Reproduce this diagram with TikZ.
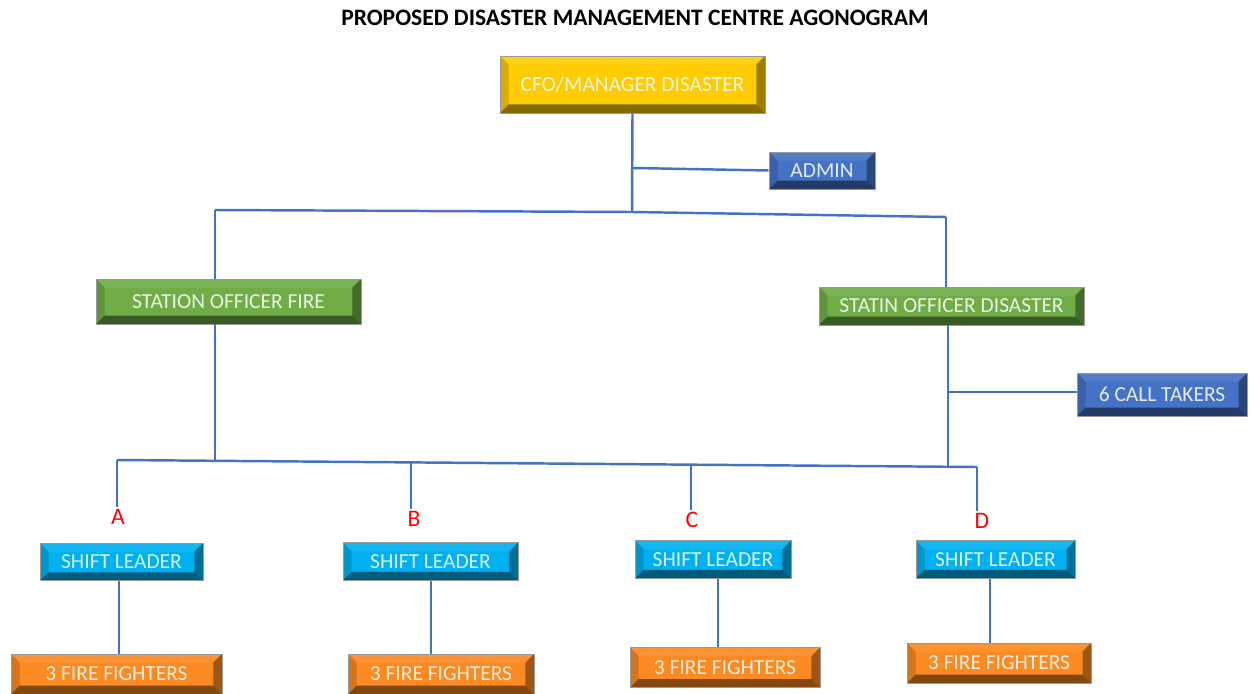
\documentclass[tikz,border=0pt]{standalone}
\usepackage{fontspec}
\setmainfont{Carlito}
\usetikzlibrary{calc,positioning}

\definecolor{linkblue}{HTML}{4472C4}
\definecolor{cfoyellow}{HTML}{FFCC00}
\definecolor{adminblue}{HTML}{4472C4}
\definecolor{officegreen}{HTML}{70AD47}
\definecolor{shiftcyan}{HTML}{00B0F0}
\definecolor{creworange}{HTML}{FB8A22}

\newdimen\bevw
\bevw=0.17cm

\tikzset{
  bevel/.style={rectangle, fill=#1, draw=black!40, line width=0.4pt,
    text=white!85!#1, font=\fontsize{12.2}{14}\selectfont, inner sep=0pt,
    path picture={
      \fill[#1!92!white] (path picture bounding box.north west) -- (path picture bounding box.north east)
        -- ++(-\bevw,-\bevw) -- ($(path picture bounding box.north west)+(\bevw,-\bevw)$) -- cycle;
      \fill[#1!85!black] (path picture bounding box.south west) -- (path picture bounding box.north west)
        -- ++(\bevw,-\bevw) -- ($(path picture bounding box.south west)+(\bevw,\bevw)$) -- cycle;
      \fill[#1!62!black] (path picture bounding box.south east) -- (path picture bounding box.north east)
        -- ++(-\bevw,-\bevw) -- ($(path picture bounding box.south east)+(-\bevw,\bevw)$) -- cycle;
      \fill[#1!52!black] (path picture bounding box.south west) -- (path picture bounding box.south east)
        -- ++(-\bevw,\bevw) -- ($(path picture bounding box.south west)+(\bevw,\bevw)$) -- cycle;
    }},
  link/.style={draw=linkblue, line width=1.4pt},
  letter/.style={text=red, font=\fontsize{13.5}{15}\selectfont, inner sep=1pt},
}

\begin{document}
\begin{tikzpicture}[x=0.02cm, y=-0.02cm]
  \useasboundingbox (0,0) rectangle (1250,693);

  \node[font=\bfseries\fontsize{13.4}{15}\selectfont] (title) at (635,18) {PROPOSED DISASTER MANAGEMENT CENTRE AGONOGRAM};

  % top of the tree
  \node[bevel=cfoyellow, minimum width=5.3cm, minimum height=1.14cm] (cfo) at (632.5,84.5) {CFO/MANAGER DISASTER};
  \node[bevel=adminblue, minimum width=2.12cm, minimum height=0.74cm] (admin) at (822,170.5) {ADMIN};
  \node[bevel=officegreen, minimum width=5.3cm, minimum height=0.9cm] (sofire) at (228.5,301.5) {STATION OFFICER FIRE};
  \node[bevel=officegreen, minimum width=5.3cm, minimum height=0.76cm] (sodis) at (951.5,306) {STATIN OFFICER DISASTER};
  \node[bevel=adminblue, minimum width=3.4cm, minimum height=0.86cm] (calls) at (1162,394.5) {6 CALL TAKERS};

  \coordinate (top) at (632,212);
  \coordinate (adm) at (633,168);
  \coordinate (tl) at (215,210);
  \coordinate (tr) at (946,217);
  \coordinate (ml) at (215,461);
  \coordinate (mr) at (948,466);
  \coordinate (ct) at (948,392);
  \coordinate (ba) at (117,460);
  \coordinate (bd) at (977,467);

  \draw[link] (cfo.south) -- (top);
  \draw[link] (adm) -- (admin.west);
  \draw[link] (tl) -- (top) -- (tr);
  \draw[link] (tl) -- (tl |- sofire.north);
  \draw[link] (tr) -- (tr |- sodis.north);
  \draw[link] (ml |- sofire.south) -- (ml);
  \draw[link] (mr |- sodis.south) -- (mr);
  \draw[link] (ct) -- (ct -| calls.west);
  \draw[link] (ba) -- (bd);

  % the four shifts
  \foreach \k/\bx/\by/\lx/\ly/\sx/\sy/\sw/\cx/\fx/\fy/\fw in {
      A/117/460/118/517/121.5/562/3.26/119/116.5/674/4.22,
      B/411/463/414/519/430.5/561.5/3.5/431/441/674/3.72,
      C/691/465/692/520/713/559.5/3.12/718/725/667.5/3.8,
      D/977/467/982/521/995.5/559.5/3.18/990/999/663/3.68} {
    \coordinate (d\k) at (\bx,\by);
    \coordinate (sc\k) at (\cx,\sy);
    \node[letter] (lbl\k) at (\lx,\ly) {\k};
    \node[bevel=shiftcyan, minimum width=\sw cm, minimum height=0.75cm] (shift\k) at (\sx,\sy) {SHIFT LEADER};
    \node[bevel=creworange, minimum width=\fw cm, minimum height=0.8cm] (crew\k) at (\fx,\fy) {3 FIRE FIGHTERS};
    \draw[link] (d\k) -- (d\k |- lbl\k.north);
    \draw[link] (sc\k |- shift\k.south) -- (sc\k |- crew\k.north);
  }
\end{tikzpicture}
\end{document}
